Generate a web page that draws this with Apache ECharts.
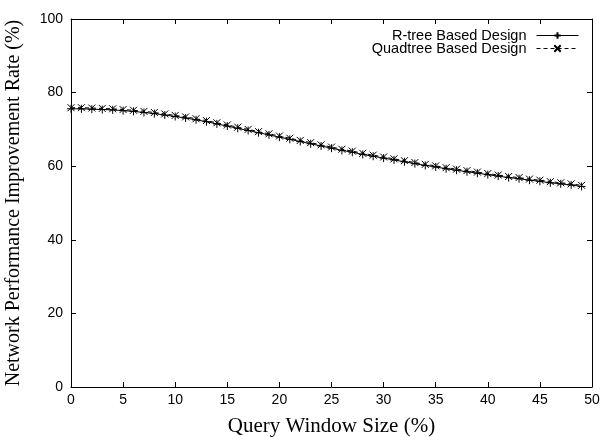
<!DOCTYPE html>
<html><head><meta charset="utf-8">
<script src="https://cdn.jsdelivr.net/npm/echarts@6/dist/echarts.min.js"></script>
<style>html,body{margin:0;padding:0;background:#fff}#c{width:601px;height:437px}</style>
</head><body><div id="c"></div>
<script>
const xValues = [0,1,2,3,4,5,6,7,8,9,10,11,12,13,14,15,16,17,18,19,20,21,22,23,24,25,26,27,28,29,30,31,32,33,34,35,36,37,38,39,40,41,42,43,44,45,46,47,48,49];
const rtree = [75.6,75.6,75.5,75.4,75.3,75.1,74.9,74.6,74.3,73.9,73.5,73.1,72.6,72.1,71.5,70.9,70.3,69.7,69.1,68.5,67.9,67.3,66.7,66.1,65.5,64.9,64.3,63.8,63.2,62.7,62.2,61.7,61.2,60.7,60.2,59.8,59.3,58.9,58.5,58.1,57.7,57.3,56.9,56.6,56.2,55.9,55.5,55.2,54.9,54.5];
const quadtree = [75.9,75.9,75.8,75.7,75.6,75.4,75.2,74.9,74.6,74.2,73.8,73.4,72.9,72.4,71.8,71.2,70.6,70.0,69.4,68.8,68.2,67.6,67.0,66.4,65.8,65.2,64.6,64.1,63.5,63.0,62.5,62.0,61.5,61.0,60.5,60.1,59.6,59.2,58.8,58.4,58.0,57.6,57.2,56.9,56.5,56.2,55.8,55.5,55.2,54.8];
const seriesNames = ['R-tree Based Design','Quadtree Based Design'];
const xTicks = [0,5,10,15,20,25,30,35,40,45,50];
const yTicks = [0,20,40,60,80,100];

const chart = echarts.init(document.getElementById('c'), null, {renderer:'canvas'});
const plusPath = 'path://M0,5L10,5M5,0L5,10';
const crossPath = 'path://M0,0L10,10M10,0L0,10';
const tickFont = {color:'#000', fontFamily:'Liberation Sans, Arial', fontSize:14};
const axisLine = {show:true, onZero:false, lineStyle:{color:'#000', width:1}};
const tick = {show:true, inside:true, length:5, lineStyle:{color:'#000', width:1}};
chart.setOption({
  animation:false,
  backgroundColor:'#fff',
  grid:{left:71, right:9, top:19, bottom:50, containLabel:false, outerBoundsMode:'none'},
  legend:{
    right:22, top:28, padding:0, orient:'vertical', align:'right', itemGap:-2,
    itemWidth:42, itemHeight:8,
    lineStyle:{width:1},
    textStyle:{color:'#000', fontFamily:'Liberation Sans, Arial', fontSize:14.5, lineHeight:13, padding:[0,5,0,0]},
    data:seriesNames.map(n=>({name:n}))
  },
  xAxis:[{
    type:'value', min:0, max:50, interval:5, position:'bottom',
    name:'Query Window Size (%)', nameLocation:'middle', nameGap:29,
    nameTextStyle:{color:'#000', fontFamily:'Liberation Serif, Times New Roman', fontSize:21},
    axisLine:axisLine, axisTick:tick, splitLine:{show:false},
    axisLabel:Object.assign({margin:6, formatter:v=>xTicks.includes(v)?String(v):''}, tickFont)
  },{
    type:'value', min:0, max:50, interval:5, position:'top',
    axisLine:axisLine, axisTick:tick, axisLabel:{show:false}, splitLine:{show:false}
  }],
  yAxis:[{
    type:'value', min:0, max:100, interval:20, position:'left',
    name:'Network Performance Improvement Rate (%)', nameLocation:'middle', nameGap:47,
    nameTextStyle:{color:'#000', fontFamily:'Liberation Serif, Times New Roman', fontSize:20},
    axisLine:axisLine, axisTick:tick, splitLine:{show:false},
    axisLabel:Object.assign({margin:8, formatter:v=>yTicks.includes(v)?String(v):''}, tickFont)
  },{
    type:'value', min:0, max:100, interval:20, position:'right',
    axisLine:axisLine, axisTick:tick, axisLabel:{show:false}, splitLine:{show:false}
  }],
  series:[{
    name:seriesNames[0], type:'line', xAxisIndex:0, yAxisIndex:0,
    data:xValues.map((x,i)=>[x,rtree[i]]),
    symbol:plusPath, symbolSize:8, showAllSymbol:true,
    lineStyle:{color:'#000', width:1, type:'solid'},
    itemStyle:{color:'#000', borderColor:'#000', borderWidth:1},
    emphasis:{disabled:true}
  },{
    name:seriesNames[1], type:'line', xAxisIndex:0, yAxisIndex:0,
    data:xValues.map((x,i)=>[x,quadtree[i]]),
    symbol:crossPath, symbolSize:7, showAllSymbol:true,
    lineStyle:{color:'#000', width:1, type:[4,3]},
    itemStyle:{color:'#000', borderColor:'#000', borderWidth:1},
    emphasis:{disabled:true}
  }]
});
</script>
</body></html>
